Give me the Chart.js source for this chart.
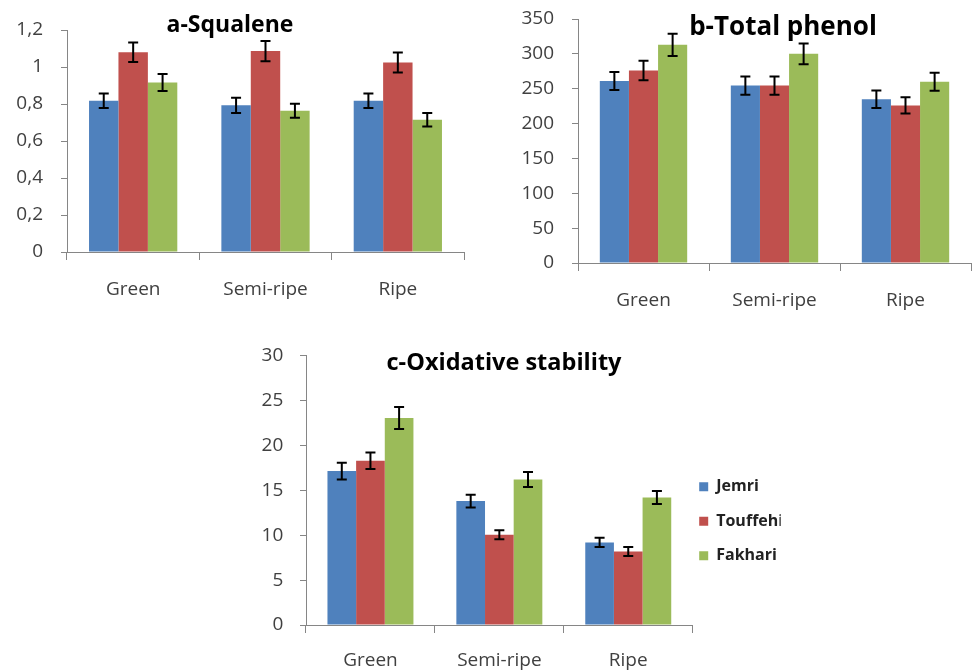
<!DOCTYPE html>
<html>
<head>
<meta charset="utf-8">
<script src="https://cdn.jsdelivr.net/npm/chart.js@4.4.0/dist/chart.umd.min.js"></script>
<style>
body { margin: 0; background: #fff; width: 973px; height: 671px; overflow: hidden; }
.box { position: absolute; }
</style>
</head>
<body>
<div class="box" style="left:0px;top:0px;width:490px;height:310px"><canvas id="chartA"></canvas></div>
<div class="box" style="left:490px;top:0px;width:483px;height:320px"><canvas id="chartB"></canvas></div>
<div class="box" style="left:240px;top:340px;width:560px;height:331px"><canvas id="chartC"></canvas></div>
<script>
let categories = ['Green', 'Semi-ripe', 'Ripe']
let seriesNames = ['Jemri', 'Touffehi', 'Fakhari']
let colors = ['#4F81BD', '#C0504D', '#9BBB59']

let titleA = 'a-Squalene'
let squaleneJemri = [0.818, 0.793, 0.818]
let squaleneTouffehi = [1.08, 1.086, 1.024]
let squaleneFakhari = [0.916, 0.764, 0.715]
let squaleneJemriErr = [0.039, 0.041, 0.039]
let squaleneTouffehiErr = [0.053, 0.055, 0.054]
let squaleneFakhariErr = [0.046, 0.038, 0.037]
let tickLabelsA = ['0', '0,2', '0,4', '0,6', '0,8', '1', '1,2']

let titleB = 'b-Total phenol'
let phenolJemri = [261, 254.5, 235]
let phenolTouffehi = [276, 254.5, 226]
let phenolFakhari = [313, 300, 260]
let phenolJemriErr = [13, 13, 12.5]
let phenolTouffehiErr = [14, 13, 11.7]
let phenolFakhariErr = [16, 15, 13]
let tickLabelsB = ['0', '50', '100', '150', '200', '250', '300', '350']

let titleC = 'c-Oxidative stability'
let stabilityJemri = [17.15, 13.8, 9.2]
let stabilityTouffehi = [18.3, 10.06, 8.2]
let stabilityFakhari = [23.06, 16.2, 14.2]
let stabilityJemriErr = [0.93, 0.7, 0.52]
let stabilityTouffehiErr = [0.93, 0.5, 0.5]
let stabilityFakhariErr = [1.22, 0.84, 0.72]
let tickLabelsC = ['0', '5', '10', '15', '20', '25', '30']

let axisColor = '#868686'
let textColor = '#404040'
let fontFamily = '"Open Sans", Lato, sans-serif'

// error bars drawn on top of each bar
let errorBars = {
    id: 'errorBars',
    afterDatasetsDraw(chart) {
        let ctx = chart.ctx
        let yScale = chart.scales.y
        ctx.save()
        ctx.strokeStyle = '#000'
        ctx.lineWidth = 2
        chart.data.datasets.forEach((ds, i) => {
            chart.getDatasetMeta(i).data.forEach((bar, j) => {
                let top = yScale.getPixelForValue(ds.data[j] + ds.errors[j])
                let bot = yScale.getPixelForValue(ds.data[j] - ds.errors[j])
                ctx.beginPath()
                ctx.moveTo(bar.x, top)
                ctx.lineTo(bar.x, bot)
                ctx.moveTo(bar.x - 5, top)
                ctx.lineTo(bar.x + 5, top)
                ctx.moveTo(bar.x - 5, bot)
                ctx.lineTo(bar.x + 5, bot)
                ctx.stroke()
            })
        })
        ctx.restore()
    }
}

let chartTitle = {
    id: 'chartTitle',
    afterDraw(chart, args, opts) {
        let ctx = chart.ctx
        ctx.save()
        ctx.font = 'bold ' + opts.size + 'px ' + fontFamily
        ctx.fillStyle = '#000'
        ctx.textAlign = 'center'
        ctx.textBaseline = 'middle'
        ctx.fillText(opts.text, opts.x, opts.y)
        ctx.restore()
    }
}

let legendShift = {
    id: 'legendShift',
    afterLayout(chart, args, opts) {
        let l = chart.legend
        if (!l) return
        l.left += opts.dx
        l.right += opts.dx
        l.top += opts.dy
        l.bottom += opts.dy
    }
}

function makeChart(id, values, errors, cfg) {
    let datasets = values.map((v, i) => ({
        label: seriesNames[i],
        data: v,
        errors: errors[i],
        backgroundColor: colors[i],
        borderWidth: 0,
        barPercentage: 1,
        categoryPercentage: 0.667
    }))
    return new Chart(document.getElementById(id), {
        type: 'bar',
        data: { labels: categories, datasets: datasets },
        plugins: [errorBars, chartTitle, legendShift],
        options: {
            responsive: true,
            maintainAspectRatio: false,
            animation: false,
            layout: { padding: cfg.padding },
            plugins: {
                tooltip: { enabled: false },
                chartTitle: cfg.title,
                legendShift: cfg.legendShift || { dx: 0, dy: 0 },
                legend: cfg.legend || { display: false }
            },
            scales: {
                x: {
                    grid: { offset: true, drawOnChartArea: false, tickLength: 8, color: axisColor },
                    border: { color: axisColor },
                    ticks: { font: { family: fontFamily, size: 19 }, color: textColor, padding: cfg.xPad, maxRotation: 0 },
                    afterFit: s => {
                        s.height = cfg.xHeight
                        s.paddingLeft = 0
                        s.paddingRight = 0
                    }
                },
                y: {
                    min: 0,
                    max: cfg.max,
                    ticks: {
                        stepSize: cfg.step,
                        font: { family: fontFamily, size: 19 },
                        color: textColor,
                        padding: cfg.yPad,
                        callback: (v, i) => cfg.tickLabels[i]
                    },
                    grid: { drawOnChartArea: false, tickLength: 6, color: axisColor },
                    border: { color: axisColor },
                    afterFit: s => {
                        s.width = cfg.yWidth
                        s.paddingTop = 0
                        s.paddingBottom = 0
                    }
                }
            }
        }
    })
}

makeChart('chartA',
    [squaleneJemri, squaleneTouffehi, squaleneFakhari],
    [squaleneJemriErr, squaleneTouffehiErr, squaleneFakhariErr],
    {
        padding: { top: 30, right: 26, left: 0, bottom: 0 },
        max: 1.2, step: 0.2, tickLabels: tickLabelsA,
        yWidth: 67, xHeight: 58, yPad: 18, xPad: 18,
        title: { text: titleA, x: 230, y: 25, size: 23 }
    })

makeChart('chartB',
    [phenolJemri, phenolTouffehi, phenolFakhari],
    [phenolJemriErr, phenolTouffehiErr, phenolFakhariErr],
    {
        padding: { top: 19, right: 2, left: 0, bottom: 0 },
        max: 350, step: 50, tickLabels: tickLabelsB,
        yWidth: 88, xHeight: 57, yPad: 18, xPad: 18,
        title: { text: titleB, x: 293, y: 28, size: 26 }
    })

makeChart('chartC',
    [stabilityJemri, stabilityTouffehi, stabilityFakhari],
    [stabilityJemriErr, stabilityTouffehiErr, stabilityFakhariErr],
    {
        padding: { top: 15.7, right: 7.3, left: 0, bottom: 0 },
        max: 30, step: 5, tickLabels: tickLabelsC,
        yWidth: 66, xHeight: 46, yPad: 16.7, xPad: 16.5,
        title: { text: titleC, x: 264, y: 23.3, size: 23.5 },
        legend: {
            display: true,
            position: 'right',
            maxWidth: 100,
            labels: {
                boxWidth: 9,
                boxHeight: 9,
                padding: 18.5,
                color: '#222',
                font: { family: fontFamily, size: 16, weight: 'bold' }
            }
        },
        legendShift: { dx: -12, dy: 8 }
    })
</script>
</body>
</html>
